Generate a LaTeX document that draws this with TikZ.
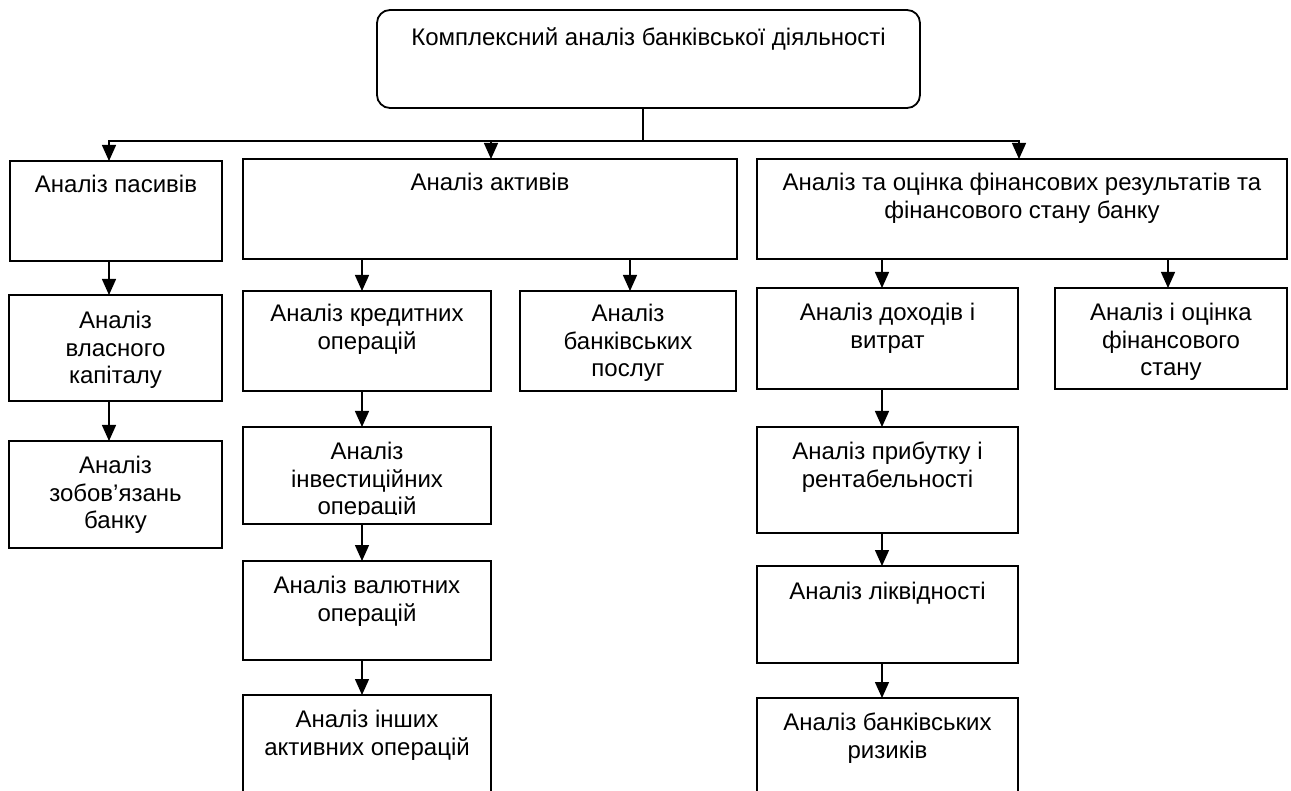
\documentclass[tikz,border=0pt]{standalone}
\usepackage{fontspec}
\setmainfont{Liberation Sans}
\usetikzlibrary{arrows.meta,fit}
\begin{document}
\begin{tikzpicture}[x=1pt,y=-1pt,
  box/.style={draw=black, line width=1.8pt, inner sep=0pt, outer sep=0pt, rectangle},
  rbox/.style={box, rounded corners=13pt},
  txt/.style={anchor=north, inner sep=0pt, align=center, font=\fontsize{24}{27.6}\selectfont, execute at begin node=\strut},
  conn/.style={line width=1.4pt},
  arr/.style={conn, -{Triangle[width=14pt,length=16pt]}}]
\useasboundingbox (0,0) rectangle (1291,791);
\clip (0,0) rectangle (1291,791);
\fill[white] (0,0) rectangle (1291,791);

% boxes
\node[rbox, fit={(377,10) (920,108)}] (top) {};
\node[box, fit={(10,161) (222,261)}] (pas) {};
\node[box, fit={(243,159) (737,259)}] (akt) {};
\node[box, fit={(757,159) (1287,259)}] (fin) {};
\node[box, fit={(9,295) (222,401)}] (vlas) {};
\node[box, fit={(9,441) (222,548)}] (zob) {};
\node[box, fit={(243,291) (491,391)}] (kred) {};
\node[box, fit={(520,291) (736,391)}] (posl) {};
\node[box, fit={(243,427) (491,524)}] (inv) {};
\node[box, fit={(243,561) (491,660)}] (val) {};
\node[box, fit={(243,695) (491,820)}] (insh) {};
\node[box, fit={(757,288) (1018,389)}] (doh) {};
\node[box, fit={(1055,288) (1287,389)}] (stan) {};
\node[box, fit={(757,427) (1018,533)}] (prib) {};
\node[box, fit={(757,566) (1018,663)}] (likv) {};
\node[box, fit={(757,698) (1018,820)}] (ryz) {};

% texts
\node[txt] (ttop) at ([yshift=-16pt]top.north) {Комплексний аналіз банківської діяльності};
\node[txt] (tpas) at ([yshift=-12pt]pas.north) {Аналіз пасивів};
\node[txt] (takt) at ([yshift=-12pt]akt.north) {Аналіз активів};
\node[txt] (tfin) at ([yshift=-14pt]fin.north) {Аналіз та оцінка фінансових результатів та\\фінансового стану банку};
\node[txt] (tvlas) at ([yshift=-16pt]vlas.north) {Аналіз\\власного\\капіталу};
\node[txt] (tzob) at ([yshift=-15pt]zob.north) {Аналіз\\зобов’язань\\банку};
\node[txt] (tkred) at ([yshift=-13pt]kred.north) {Аналіз кредитних\\операцій};
\node[txt] (tposl) at ([yshift=-13pt]posl.north) {Аналіз\\банківських\\послуг};
\begin{scope}
\clip (243,427) rectangle (491,514);
\node[txt] (tinv) at ([yshift=-15pt]inv.north) {Аналіз\\інвестиційних\\операцій};
\end{scope}
\node[txt] (tval) at ([yshift=-15pt]val.north) {Аналіз валютних\\операцій};
\node[txt] (tinsh) at ([yshift=-15pt]insh.north) {Аналіз інших\\активних операцій};
\node[txt] (tdoh) at ([yshift=-15pt]doh.north) {Аналіз доходів і\\витрат};
\node[txt] (tstan) at ([yshift=-15pt]stan.north) {Аналіз і оцінка\\фінансового\\стану};
\node[txt] (tprib) at ([yshift=-15pt]prib.north) {Аналіз прибутку і\\рентабельності};
\node[txt] (tlikv) at ([yshift=-14pt]likv.north) {Аналіз ліквідності};
\node[txt] (tryz) at ([yshift=-15pt]ryz.north) {Аналіз банківських\\ризиків};

% connector columns
\coordinate (j) at (643,141);
\coordinate (cA) at (109,0);
\coordinate (cB) at (491,0);
\coordinate (cC) at (1019,0);
\coordinate (cK) at (362,0);
\coordinate (cP) at (630,0);
\coordinate (cD) at (882,0);
\coordinate (cS) at (1168,0);

\draw[conn] (top.south -| j) -- (j);
\draw[arr] (j) -| (pas.north -| cA);
\draw[arr] (j) -| (fin.north -| cC);
\draw[arr] (j -| cB) -- (akt.north -| cB);

\draw[arr] (pas.south -| cA) -- (vlas.north -| cA);
\draw[arr] (vlas.south -| cA) -- (zob.north -| cA);

\draw[arr] (akt.south -| cK) -- (kred.north -| cK);
\draw[arr] (akt.south -| cP) -- (posl.north -| cP);
\draw[arr] (kred.south -| cK) -- (inv.north -| cK);
\draw[arr] (inv.south -| cK) -- (val.north -| cK);
\draw[arr] (val.south -| cK) -- (insh.north -| cK);

\draw[arr] (fin.south -| cD) -- (doh.north -| cD);
\draw[arr] (fin.south -| cS) -- (stan.north -| cS);
\draw[arr] (doh.south -| cD) -- (prib.north -| cD);
\draw[arr] (prib.south -| cD) -- (likv.north -| cD);
\draw[arr] (likv.south -| cD) -- (ryz.north -| cD);
\end{tikzpicture}
\end{document}
